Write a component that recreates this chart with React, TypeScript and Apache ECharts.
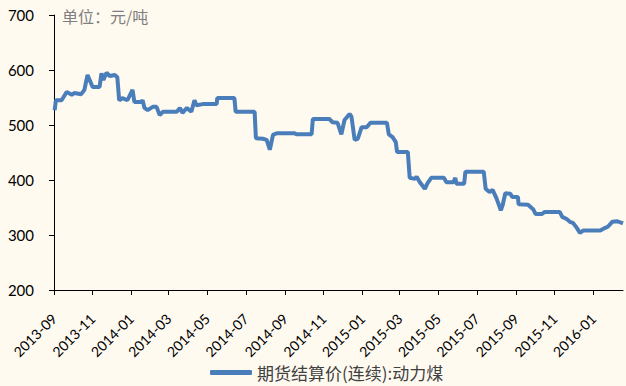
import React, { useEffect, useRef } from "react";
import * as echarts from "echarts";

const seriesName = "期货结算价(连续):动力煤";
const unitText = "单位：元/吨";
const axisStart = "2013-09-01";
const axisEnd = "2016-02-17";
const yTicks = { min: 200, max: 700, interval: 100 };

const dates = [
  "2013-09-02", "2013-09-04", "2013-09-13", "2013-09-21", "2013-09-29", "2013-10-03", "2013-10-14", "2013-10-19",
  "2013-10-24", "2013-11-01", "2013-11-12", "2013-11-15", "2013-11-18", "2013-11-23", "2013-11-28", "2013-12-06",
  "2013-12-10", "2013-12-13", "2013-12-18", "2013-12-26", "2014-01-03", "2014-01-06", "2014-01-17", "2014-01-19",
  "2014-01-22", "2014-01-27", "2014-02-04", "2014-02-10", "2014-02-15", "2014-02-20", "2014-03-14", "2014-03-19",
  "2014-03-23", "2014-03-30", "2014-04-06", "2014-04-11", "2014-04-14", "2014-04-24", "2014-05-16", "2014-05-17",
  "2014-06-13", "2014-06-15", "2014-07-15", "2014-07-17", "2014-07-28", "2014-08-03", "2014-08-08", "2014-08-13",
  "2014-08-19", "2014-09-16", "2014-09-19", "2014-10-13", "2014-10-15", "2014-11-10", "2014-11-15", "2014-11-23",
  "2014-11-29", "2014-12-04", "2014-12-12", "2014-12-15", "2014-12-20", "2014-12-25", "2014-12-31", "2015-01-08",
  "2015-01-14", "2015-02-09", "2015-02-12", "2015-02-18", "2015-02-23", "2015-02-25", "2015-03-14", "2015-03-17",
  "2015-03-25", "2015-03-28", "2015-04-02", "2015-04-10", "2015-04-14", "2015-04-20", "2015-05-10", "2015-05-14",
  "2015-05-25", "2015-05-28", "2015-05-30", "2015-06-11", "2015-06-13", "2015-07-12", "2015-07-15", "2015-07-21",
  "2015-07-26", "2015-08-01", "2015-08-08", "2015-08-11", "2015-08-15", "2015-08-23", "2015-08-26", "2015-09-04",
  "2015-09-05", "2015-09-20", "2015-09-28", "2015-10-02", "2015-10-12", "2015-10-16", "2015-11-09", "2015-11-13",
  "2015-11-20", "2015-11-25", "2015-11-30", "2015-12-06", "2015-12-11", "2015-12-16", "2016-01-12", "2016-01-20",
  "2016-01-24", "2016-01-31", "2016-02-08", "2016-02-17",
];

const values = [
  527, 545, 545, 560, 555, 558, 556, 564,
  591, 569, 569, 594, 582, 595, 589, 591,
  587, 545, 549, 545, 564, 542, 542, 545,
  531, 527, 533, 533, 518, 524, 524, 531,
  522, 531, 524, 545, 536, 538, 538, 549,
  549, 524, 524, 476, 475, 473, 455, 482,
  485, 485, 483, 483, 511, 511, 505, 504,
  483, 509, 520, 515, 473, 475, 496, 496,
  504, 504, 483, 478, 469, 451, 451, 404,
  402, 406, 396, 384, 394, 404, 404, 396,
  396, 404, 393, 393, 415, 415, 384, 378,
  382, 367, 345, 355, 376, 375, 369, 369,
  356, 355, 347, 338, 338, 342, 342, 333,
  329, 324, 322, 313, 304, 308, 308, 313,
  315, 324, 325, 321,
];

function pad(n: number) {
  return n < 10 ? "0" + n : "" + n;
}

function buildCalendar(start: string, end: string): string[] {
  const out: string[] = [];
  const [sy, sm, sd] = start.split("-").map(Number);
  const [ey, em, ed] = end.split("-").map(Number);
  let t = Date.UTC(sy, sm - 1, sd);
  const e = Date.UTC(ey, em - 1, ed);
  while (t <= e) {
    const d = new Date(t);
    out.push(d.getUTCFullYear() + "-" + pad(d.getUTCMonth() + 1) + "-" + pad(d.getUTCDate()));
    t += 86400000;
  }
  return out;
}

function isTick(v: string) {
  const m = Number(v.slice(5, 7));
  return v.slice(8, 10) === "01" && m % 2 === 1;
}

export default function App() {
  const ref = useRef<HTMLDivElement>(null);
  useEffect(() => {
    document.body.style.margin = "0";
    if (!ref.current) return;
    const chart = echarts.init(ref.current, undefined, { renderer: "svg" });
    const cats = buildCalendar(axisStart, axisEnd);
    chart.setOption({
      animation: false,
      backgroundColor: "#FFFAF0",
      title: {
        text: unitText,
        left: 62,
        top: 8,
        padding: 0,
        textStyle: { fontSize: 16, color: "#7F7F7F", fontWeight: "normal", fontFamily: "Noto Sans CJK SC" },
      },
      grid: { left: 54, right: 3, top: 15, bottom: 96, containLabel: false },
      legend: {
        left: 210,
        top: 364,
        padding: 0,
        itemWidth: 42,
        itemHeight: 5,
        icon: "roundRect",
        itemGap: 4,
        textStyle: { fontSize: 17, color: "#404040", fontFamily: "Noto Sans CJK SC" },
        data: [seriesName],
      },
      xAxis: {
        type: "category",
        data: cats,
        boundaryGap: false,
        axisLine: { show: true, lineStyle: { color: "#000", width: 1 } },
        axisTick: {
          show: true,
          interval: (i: number, v: string) => isTick(v),
          length: 5,
          lineStyle: { color: "#000" },
        },
        axisLabel: {
          interval: (i: number, v: string) => isTick(v),
          rotate: 45,
          margin: 26,
          fontSize: 14,
          color: "#000",
          fontFamily: "Lato",
          formatter: (v: string) => v.slice(0, 7),
        },
        splitLine: { show: false },
      },
      yAxis: {
        type: "value",
        min: yTicks.min,
        max: yTicks.max,
        interval: yTicks.interval,
        axisLine: { show: true, lineStyle: { color: "#000", width: 1 } },
        axisTick: { show: true, length: 5, lineStyle: { color: "#000" } },
        axisLabel: { fontSize: 15, color: "#000", margin: 20, fontFamily: "Lato" },
        splitLine: { show: false },
      },
      series: [
        {
          name: seriesName,
          type: "line",
          symbol: "none",
          lineStyle: { width: 4, color: "#4A7EBB" },
          itemStyle: { color: "#4A7EBB" },
          data: dates.map((d, i) => [d, values[i]]),
        },
      ],
    });
    return () => chart.dispose();
  }, []);
  return <div ref={ref} style={{ width: 626, height: 386 }} />;
}
